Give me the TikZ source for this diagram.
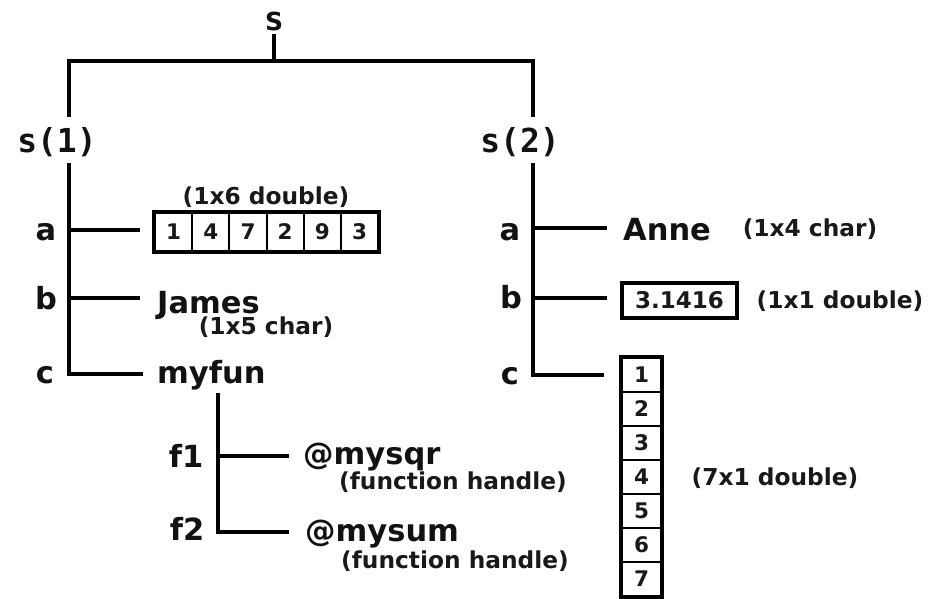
\documentclass[tikz,border=0pt]{standalone}
\usepackage{fontspec}
\setmainfont{DejaVu Sans}
\setmonofont{DejaVu Sans Mono}
\begin{document}
\begin{tikzpicture}[x=1pt,y=-1pt,
  wire/.style={line width=3.3pt},
  root/.style={font=\fontsize{33}{33}\selectfont\ttfamily\bfseries, inner sep=0pt, text=black!93},
  lbl/.style={font=\fontsize{30.5}{30.5}\selectfont\bfseries, inner sep=0pt, text=black!93},
  note/.style={font=\fontsize{23.3}{23.3}\selectfont\bfseries, inner sep=0pt, text=black!90},
  cell/.style={draw, line width=2pt, inner sep=0pt,
    font=\fontsize{21.5}{21.5}\selectfont\bfseries, text=black!90},
  hcell/.style={cell, minimum width=37.2pt, minimum height=38pt},
  vcell/.style={cell, minimum width=39pt, minimum height=34pt},
  frame/.style={draw, line width=3.2pt}]
\useasboundingbox (0,0) rectangle (929,598);

% ---- root and the two elements of the struct array
\node[root, anchor=base] (s)  at (274,30)  {s};
\node[root, anchor=base] (s1) at (57,152)  {s(1)};
\node[root, anchor=base] (s2) at (520,152) {s(2)};

\coordinate (jt) at (274,61);
\coordinate (L0) at (69,117);
\coordinate (R0) at (533,117);
\draw[wire, shorten <=3pt] (s.south) -- (jt);
\draw[wire] (L0) |- (jt) -| (R0);

% ---- fields of s(1)
\node[lbl, anchor=base] (la) at (46,240) {a};
\node[lbl, anchor=base] (lb) at (46,309) {b};
\node[lbl, anchor=base] (lc) at (45,383) {c};

\coordinate (L1)  at (69,163);
\coordinate (La)  at (69,230);
\coordinate (Lae) at (140,230);
\coordinate (Lb)  at (69,298);
\coordinate (Lbe) at (140,298);
\coordinate (Lce) at (143,374);
\draw[wire] (L1) |- (Lce);
\draw[wire] (La) -- (Lae);
\draw[wire] (Lb) -- (Lbe);

% 1x6 double row vector
\node[note] (d6) at (266,197) {(1x6 double)};
\foreach \v [count=\i] in {1,4,7,2,9,3}
  \node[hcell] (r\i) at ({155+37.2*(\i-0.5)},232) {\v};
\draw[line width=3.2pt] (r1.north west) rectangle (r6.south east);

\node[lbl, anchor=base west] (james) at (157,313) {James};
\node[note] (c5) at (266,327) {(1x5 char)};
\node[lbl, anchor=base west] (myfun) at (157,383) {myfun};

% ---- nested struct myfun
\node[lbl, anchor=base] (f1) at (186,467) {f1};
\node[lbl, anchor=base] (f2) at (187,540) {f2};
\coordinate (M0)  at (218,393);
\coordinate (M1)  at (218,456);
\coordinate (M1e) at (289,456);
\coordinate (M2e) at (289,532);
\draw[wire] (M0) |- (M2e);
\draw[wire] (M1) -- (M1e);

\node[lbl, anchor=base west] (sqr) at (303,464) {@mysqr};
\node[note] (h1) at (453,482) {(function handle)};
\node[lbl, anchor=base west] (sum) at (305,541) {@mysum};
\node[note] (h2) at (455,561) {(function handle)};

% ---- fields of s(2)
\node[lbl, anchor=base] (ra) at (510,240) {a};
\node[lbl, anchor=base] (rb) at (511,308) {b};
\node[lbl, anchor=base] (rc) at (510,384) {c};

\coordinate (R1)  at (533,163);
\coordinate (Ra)  at (533,228);
\coordinate (Rae) at (607,228);
\coordinate (Rb)  at (533,298);
\coordinate (Rbe) at (607,298);
\coordinate (Rce) at (604,375);
\draw[wire] (R1) |- (Rce);
\draw[wire] (Ra) -- (Rae);
\draw[wire] (Rb) -- (Rbe);

\node[lbl, anchor=base west] (anne) at (623,240) {Anne};
\node[note] (c4) at (810,229) {(1x4 char)};

\node[frame, inner sep=0pt, minimum width=115pt, minimum height=35pt,
  font=\fontsize{23}{23}\selectfont\bfseries, text=black!90] (pi) at (679.5,300.5) {3.1416};
\node[note] (d1) at (840,301) {(1x1 double)};

% 7x1 double column vector
\foreach \v in {1,...,7}
  \node[vcell] (k\v) at (641.5,{358+34*(\v-0.5)}) {\v};
\draw[line width=3.2pt] (k1.north west) rectangle (k7.south east);
\node[note] (d7) at (775,478) {(7x1 double)};
\end{tikzpicture}
\end{document}
